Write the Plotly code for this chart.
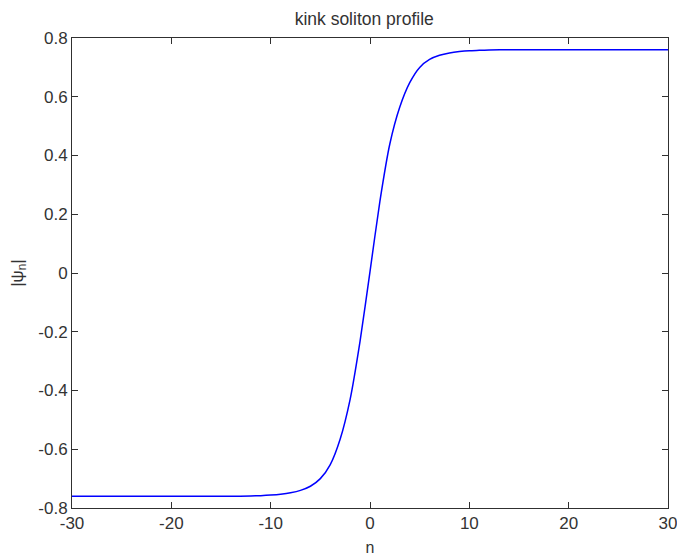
import plotly.graph_objects as go

# lattice site n and kink amplitude |psi_n|
n_sites = [-30, -20, -14, -12, -11, -10, -9, -8, -7, -6, -5, -4, -3, -2, -1,
           0, 1, 2, 3, 4, 5, 6, 7, 8, 9, 10, 11, 12, 14, 20, 30]
psi_abs = [-0.760, -0.760, -0.760, -0.759, -0.758, -0.756, -0.753, -0.748, -0.740,
           -0.726, -0.700, -0.652, -0.565, -0.430, -0.232,
           0.005, 0.245, 0.440, 0.565, 0.648, 0.700, 0.727, 0.741, 0.749, 0.754,
           0.757, 0.758, 0.759, 0.760, 0.760, 0.760]

x_ticks = [-30, -20, -10, 0, 10, 20, 30]
x_labels = ['-30', '-20', '-10', '0', '10', '20', '30']
y_ticks = [-0.8, -0.6, -0.4, -0.2, 0, 0.2, 0.4, 0.6, 0.8]
y_labels = ['-0.8', '-0.6', '-0.4', '-0.2', '0', '0.2', '0.4', '0.6', '0.8']

FONT = 'Arial, Liberation Sans, sans-serif'

fig = go.Figure()
fig.add_trace(go.Scatter(
    x=n_sites, y=psi_abs, mode='lines',
    line=dict(color='#0000ff', width=1.5, shape='spline', smoothing=0.6),
    showlegend=False, hoverinfo='skip'
))

axis_style = dict(
    showline=True, linecolor='#303030', linewidth=1, mirror='ticks',
    ticks='inside', ticklen=6, tickcolor='#303030', tickwidth=1,
    showgrid=False, zeroline=False, automargin=False, ticklabeloverflow='allow',
    tickfont=dict(family=FONT, size=17, color='#333333'),
)

fig.update_layout(
    width=677, height=556,
    margin=dict(l=72, r=9, t=38, b=48),
    paper_bgcolor='white', plot_bgcolor='white',
    title=dict(text='kink soliton profile', x=0.538, xanchor='center', y=0.966, yanchor='middle',
               font=dict(family=FONT, size=17.5, color='#333333')),
    xaxis=dict(range=[-30, 30], tickvals=x_ticks, ticktext=x_labels,
               title=dict(text='n', standoff=9, font=dict(family=FONT, size=16, color='#333333')),
               **axis_style),
    yaxis=dict(range=[-0.8, 0.8], tickvals=y_ticks, ticktext=y_labels,
               title=dict(text='|ψ<sub>n</sub>|', standoff=10, font=dict(family=FONT, size=17, color='#333333')),
               **axis_style),
)

# drop the default page margin so the figure fills the window exactly
fig.write_html("out.html", config={'displayModeBar': False},
               post_script="document.body.style.margin='0';")
